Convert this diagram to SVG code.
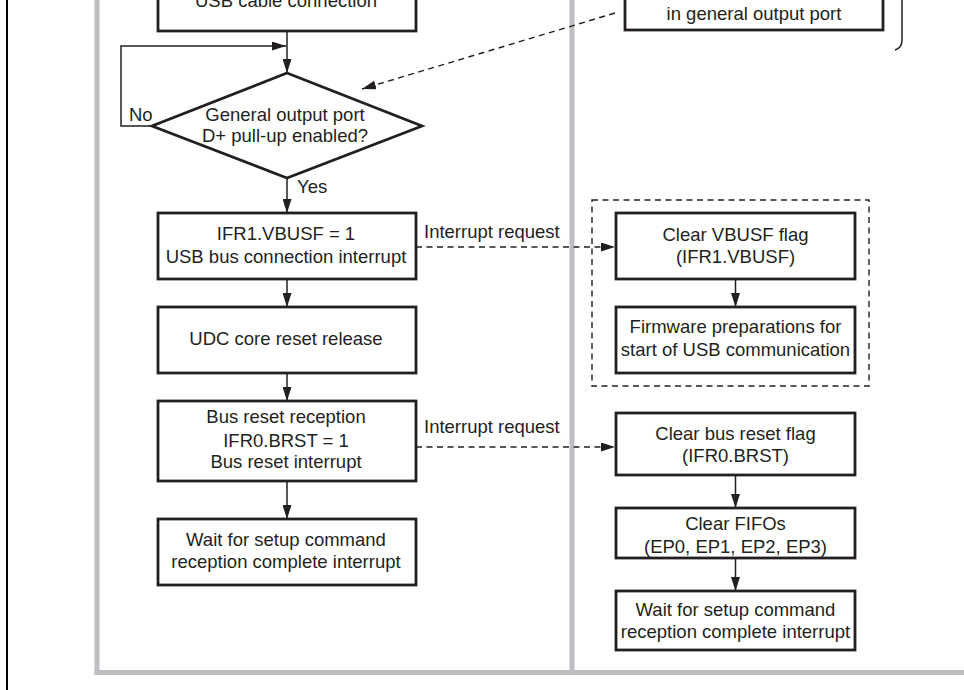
<svg xmlns="http://www.w3.org/2000/svg" width="964" height="690" viewBox="0 0 964 690">
<style>
text{font-family:"Liberation Sans",Arial,sans-serif;font-size:18.5px;fill:#231f20}
.c{text-anchor:middle}
.box{fill:#fff;stroke:#231f20;stroke-width:2.8}
.ln{fill:none;stroke:#231f20;stroke-width:1.5}
.ds{fill:none;stroke:#231f20;stroke-width:1.4;stroke-dasharray:6 4.5}
.gray{fill:#bdbec2}
</style>
<defs>
<marker id="ah" markerUnits="userSpaceOnUse" markerWidth="15" markerHeight="9" refX="14" refY="4.5" orient="auto">
<path d="M0,0 L14,4.5 L0,9 z" fill="#231f20"/>
</marker>
</defs>
<rect x="0" y="0" width="964" height="690" fill="#fff"/>
<g id="frame">
<rect x="6" y="0" width="2" height="690" fill="#000"/>
<rect class="gray" x="94.5" y="0" width="5" height="675"/>
<rect class="gray" x="569.5" y="0" width="5" height="672"/>
<rect class="gray" x="94.5" y="670" width="869.5" height="5"/>
</g>
<g id="connectors">
<line class="ln" x1="287" y1="31" x2="287" y2="73" marker-end="url(#ah)"/>
<polyline class="ln" points="152,126 121,126 121,46 286,46" marker-end="url(#ah)"/>
<line class="ln" x1="287" y1="178" x2="287" y2="213" marker-end="url(#ah)"/>
<line class="ln" x1="287" y1="279" x2="287" y2="307" marker-end="url(#ah)"/>
<line class="ln" x1="287" y1="373" x2="287" y2="401" marker-end="url(#ah)"/>
<line class="ln" x1="287" y1="481" x2="287" y2="519" marker-end="url(#ah)"/>
<line class="ln" x1="735.5" y1="279" x2="735.5" y2="307" marker-end="url(#ah)"/>
<line class="ln" x1="735.5" y1="475" x2="735.5" y2="508" marker-end="url(#ah)"/>
<line class="ln" x1="735.5" y1="558" x2="735.5" y2="591" marker-end="url(#ah)"/>
<line class="ds" x1="416" y1="247" x2="615" y2="247" marker-end="url(#ah)"/>
<line class="ds" x1="416" y1="447" x2="615" y2="447" marker-end="url(#ah)"/>
<line class="ds" x1="615" y1="13" x2="362" y2="89" marker-end="url(#ah)"/>
<path class="ln" d="M902,0 L902,40 Q902,48 895,50"/>
<text x="129" y="121">No</text>
<text x="297" y="193">Yes</text>
<text x="424" y="238">Interrupt request</text>
<text x="424" y="433">Interrupt request</text>
</g>
<g id="n-usb-cable">
<rect class="box" x="158" y="-40" width="258" height="71"/>
<text class="c" x="286" y="7">USB cable connection</text>
</g>
<g id="n-port-top">
<rect class="box" x="625" y="-40" width="258" height="70"/>
<text class="c" x="754" y="20">in general output port</text>
</g>
<g id="n-decision">
<polygon class="box" points="287,73 422,126 287,178 152,126"/>
<text class="c" x="285" y="121">General output port</text>
<text class="c" x="285" y="142">D+ pull-up enabled?</text>
</g>
<g id="n-vbusf">
<rect class="box" x="158" y="213" width="258" height="66"/>
<text class="c" x="286" y="240">IFR1.VBUSF = 1</text>
<text class="c" x="286" y="263">USB bus connection interrupt</text>
</g>
<g id="n-udc">
<rect class="box" x="158" y="307" width="258" height="66"/>
<text class="c" x="286" y="345">UDC core reset release</text>
</g>
<g id="n-busreset">
<rect class="box" x="158" y="401" width="258" height="80"/>
<text class="c" x="286" y="423">Bus reset reception</text>
<text class="c" x="286" y="447">IFR0.BRST = 1</text>
<text class="c" x="286" y="468">Bus reset interrupt</text>
</g>
<g id="n-wait-left">
<rect class="box" x="158" y="519" width="258" height="66"/>
<text class="c" x="286" y="546">Wait for setup command</text>
<text class="c" x="286" y="568">reception complete interrupt</text>
</g>
<g id="n-group">
<rect class="ds" x="592" y="200" width="277" height="186"/>
</g>
<g id="n-clear-vbusf">
<rect class="box" x="616" y="213" width="239" height="66"/>
<text class="c" x="735.5" y="241">Clear VBUSF flag</text>
<text class="c" x="735.5" y="263">(IFR1.VBUSF)</text>
</g>
<g id="n-firmware">
<rect class="box" x="616" y="307" width="239" height="66"/>
<text class="c" x="735.5" y="333">Firmware preparations for</text>
<text class="c" x="735.5" y="356">start of USB communication</text>
</g>
<g id="n-clear-brst">
<rect class="box" x="616" y="413" width="239" height="62"/>
<text class="c" x="735.5" y="440">Clear bus reset flag</text>
<text class="c" x="735.5" y="462">(IFR0.BRST)</text>
</g>
<g id="n-fifos">
<rect class="box" x="616" y="508" width="239" height="50"/>
<text class="c" x="735.5" y="530">Clear FIFOs</text>
<text class="c" x="735.5" y="553">(EP0, EP1, EP2, EP3)</text>
</g>
<g id="n-wait-right">
<rect class="box" x="616" y="591" width="239" height="59"/>
<text class="c" x="735.5" y="616">Wait for setup command</text>
<text class="c" x="735.5" y="638">reception complete interrupt</text>
</g>
</svg>
